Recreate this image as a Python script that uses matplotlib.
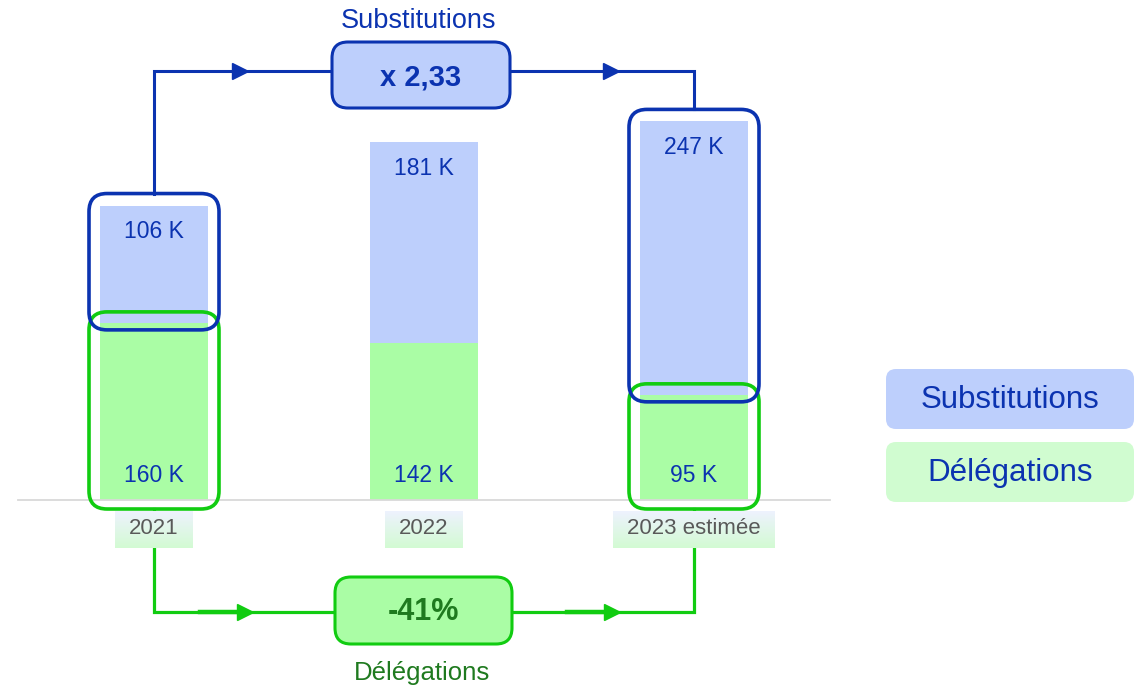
import numpy as np
import matplotlib
matplotlib.use("Agg")
import matplotlib.pyplot as plt
from matplotlib.patches import FancyBboxPatch
from matplotlib.colors import to_rgb

plt.rcParams['font.family'] = ['Liberation Sans', 'DejaVu Sans']

# data
years = ["2021", "2022", "2023 estimée"]
substitutions = [106, 181, 247]
delegations = [160, 142, 95]
ratio_label = "x 2,33"
change_label = "-41%"
series_names = ["Substitutions", "Délégations"]

BLUE_FILL = "#bdcffc"
GREEN_FILL = "#aafda5"
DARK_BLUE = "#0b33b0"
GREEN_LINE = "#11cc11"
DARK_GREEN = "#1f7a1f"
LEG_GREEN = "#d0fcd0"

# pixel mapping of the bar axes (category spacing / K scale)
X0, DX, Y0, K = 154, 270, 500, 1.107
W, H = 1145, 688

fig = plt.figure(figsize=(W / 100, H / 100), dpi=100)
ax = fig.add_axes([0, 0, 1, 1])
ax.set_xlim(-X0 / DX, (W - X0) / DX)
ax.set_ylim(-(H - Y0) / K, Y0 / K)
ax.axis('off')

x = np.arange(len(years))
ax.bar(x, delegations, width=0.4, color=GREEN_FILL, zorder=2)
ax.bar(x, substitutions, bottom=delegations, width=0.4, color=BLUE_FILL, zorder=2)

for i in x:
    tot = delegations[i] + substitutions[i]
    ax.text(i, tot - 23.5, f"{substitutions[i]} K", ha='center', va='center',
            fontsize=16.5, color=DARK_BLUE, zorder=5)
    ax.text(i, 21.7, f"{delegations[i]} K", ha='center', va='center',
            fontsize=16.5, color=DARK_BLUE, zorder=5)

# overlay in pixel coords for the annotations
ov = fig.add_axes([0, 0, 1, 1])
ov.patch.set_alpha(0)
ov.axis('off')


def px(i, v):
    return X0 + DX * i, Y0 - K * v


def rbox(x0, y0, x1, y1, fc, ec, lw, r, z):
    p = FancyBboxPatch((x0, y0), x1 - x0, y1 - y0,
                       boxstyle=f"round,pad=0,rounding_size={r}",
                       fc=fc, ec=ec, lw=lw, zorder=z)
    ov.add_patch(p)


# baseline
ov.plot([18, 830], [Y0, Y0], color="#d9d9d9", lw=1.3, zorder=1)

# highlight boxes around first and last bar
first, last = 0, len(years) - 1
boxes = {}
for i in (first, last):
    cx, top = px(i, delegations[i] + substitutions[i])
    _, gtop = px(i, delegations[i])
    b_top, b_bot = top - 12, gtop + 7
    g_top, g_bot = gtop - 11, Y0 + 9
    boxes[i] = (b_top, g_bot)
    rbox(cx - 65, g_top, cx + 65, g_bot, 'none', GREEN_LINE, 2.6, 18, 6)
    rbox(cx - 65, b_top, cx + 65, b_bot, 'none', DARK_BLUE, 2.6, 18, 6)

# top flow (substitutions)
xa, _ = px(first, 0)
xb, _ = px(last, 0)
yt = 71
ov.plot([xa, xa, xb, xb], [boxes[first][0], yt, yt, boxes[last][0]],
        color=DARK_BLUE, lw=2.2, zorder=3, solid_joinstyle='miter')
ov.plot([240, 611], [yt, yt], ls='none', marker='>', ms=11, color=DARK_BLUE,
        mec=DARK_BLUE, zorder=3)
rbox(332, 42, 510, 108, BLUE_FILL, DARK_BLUE, 2.2, 16, 7)
ov.text(421, 77, ratio_label, ha='center', va='center', fontsize=21,
        fontweight='bold', color=DARK_BLUE, zorder=8)
ov.text(419, 21, series_names[0], ha='center', va='center', fontsize=19.5,
        color=DARK_BLUE, zorder=8)

# bottom flow (delegations)
yb = 612
ov.plot([xa, xa, xb, xb], [boxes[first][1], yb, yb, boxes[last][1]],
        color=GREEN_LINE, lw=2.3, zorder=3, solid_joinstyle='miter')
ov.plot([200, 240], [yb, yb], color=GREEN_LINE, lw=3.2, zorder=3)
ov.plot([567, 606], [yb, yb], color=GREEN_LINE, lw=3.2, zorder=3)
ov.plot([245, 612], [yb, yb], ls='none', marker='>', ms=11, color=GREEN_LINE,
        mec=GREEN_LINE, zorder=3)
rbox(335, 577, 512, 644, GREEN_FILL, GREEN_LINE, 2.2, 16, 7)
ov.text(423, 612, change_label, ha='center', va='center', fontsize=22,
        fontweight='bold', color=DARK_GREEN, zorder=8)
ov.text(422, 673, series_names[1], ha='center', va='center', fontsize=18.5,
        color=DARK_GREEN, zorder=8)

# category labels with gradient boxes
ov.set_xlim(0, W)
ov.set_ylim(H, 0)
renderer = fig.canvas.get_renderer()
c1, c2 = np.array(to_rgb("#eef2fe")), np.array(to_rgb("#d3fbd3"))
t = np.linspace(0, 1, 60)[:, None, None]
grad = c1 * (1 - t) + c2 * t
for i, lab in enumerate(years):
    cx, _ = px(i, 0)
    txt = ov.text(cx, 529, lab, ha='center', va='center', fontsize=16,
                  color="#595959", zorder=9)
    w = txt.get_window_extent(renderer).width + 28
    ov.imshow(grad, extent=(cx - w / 2, cx + w / 2, 548, 511), aspect='auto',
              zorder=8)

# legend boxes
leg_fill = [BLUE_FILL, LEG_GREEN]
for k, name in enumerate(series_names):
    y0 = 369 + k * 73
    rbox(886, y0, 1134, y0 + 60, leg_fill[k], 'none', 0, 10, 4)
    ov.text(1010, y0 + 31, name, ha='center', va='center', fontsize=22.5,
            color=DARK_BLUE, zorder=5)

ov.set_xlim(0, W)
ov.set_ylim(H, 0)

fig.savefig("out.png", dpi=100)
